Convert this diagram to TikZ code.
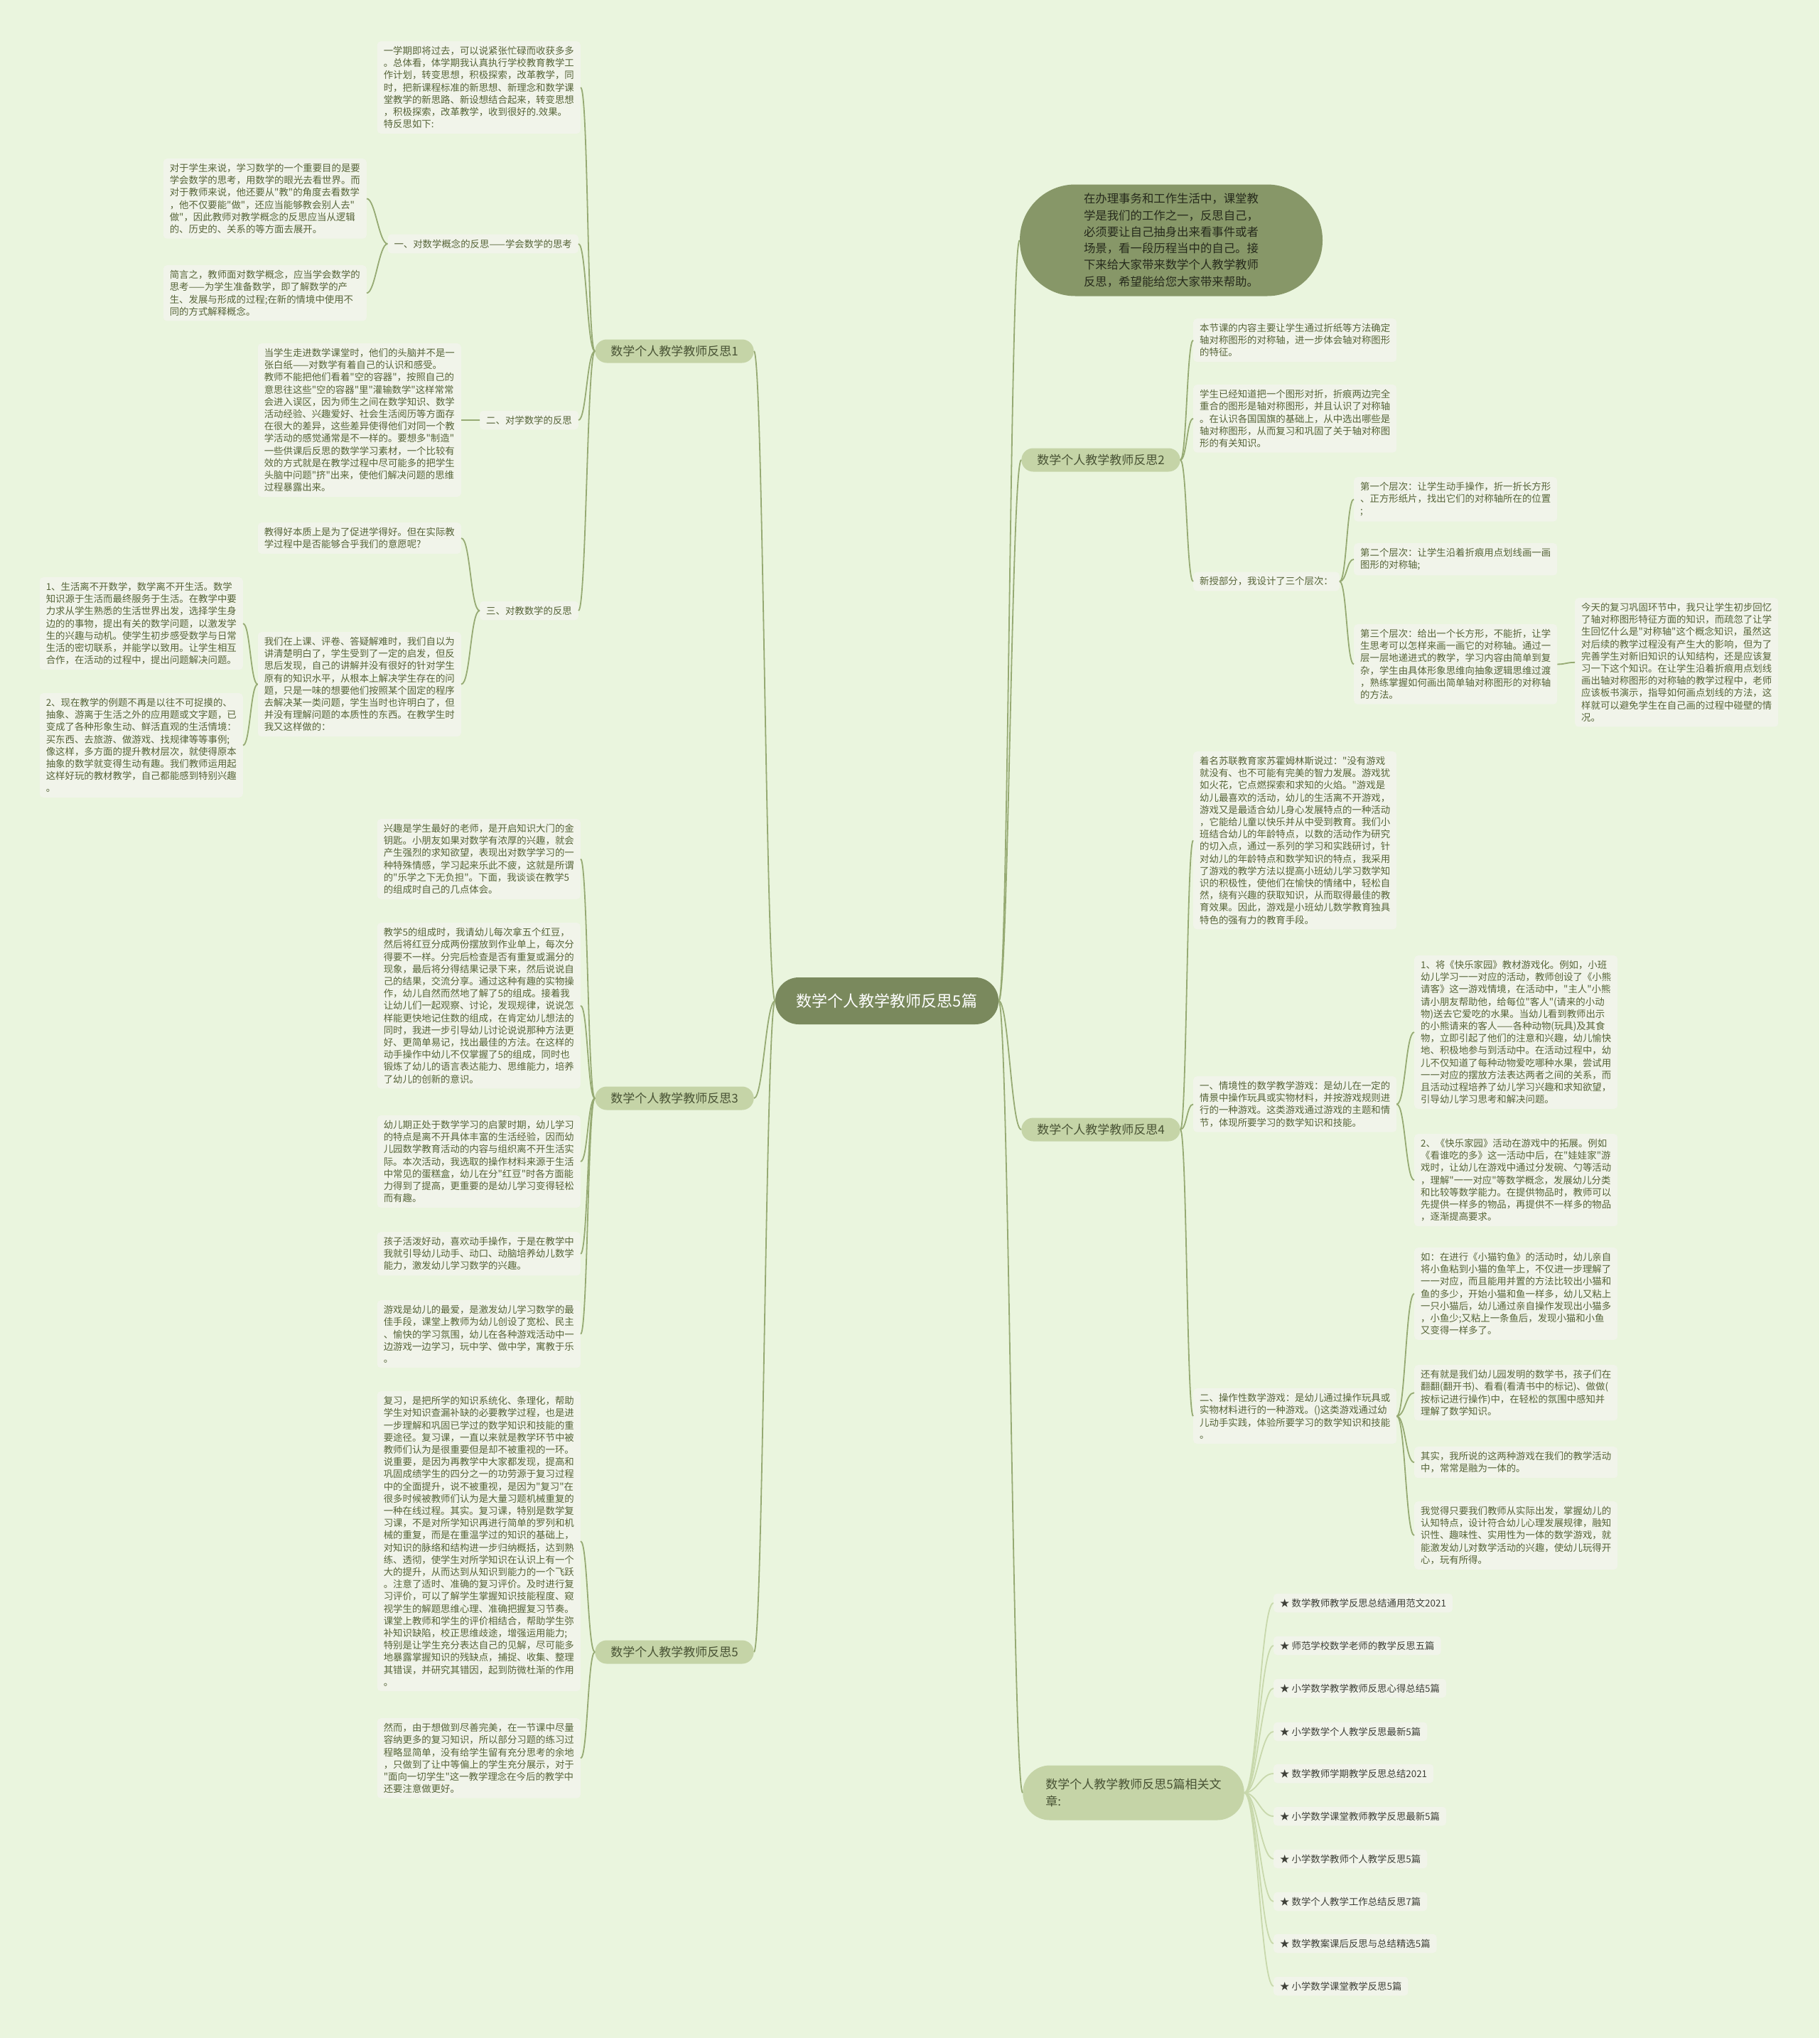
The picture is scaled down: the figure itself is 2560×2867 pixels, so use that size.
\documentclass[tikz,border=0pt]{standalone}
\usepackage{fontspec}
\newfontfamily\cjk{Noto Sans CJK SC}
\definecolor{bgc}{RGB}{234,245,222}
\definecolor{boxc}{RGB}{241,244,234}
\definecolor{brc}{RGB}{197,212,167}
\definecolor{brtext}{RGB}{72,82,52}
\definecolor{cenc}{RGB}{122,137,93}
\definecolor{introc}{RGB}{135,151,104}
\definecolor{introtext}{RGB}{38,42,28}
\definecolor{linec}{RGB}{150,170,115}
\definecolor{linkc}{RGB}{200,216,172}
\definecolor{leaftext}{RGB}{86,100,56}
\definecolor{linktext}{RGB}{62,64,56}
\newcommand\leaffont{\cjk\fontsize{13.4}{17.2}\selectfont}
\newcommand\brfont{\cjk\fontsize{17}{24}\selectfont}

\begin{document}
\begin{tikzpicture}[x=1pt, y=-1pt,
  leaf/.style={fill=boxc, rounded corners=5pt, align=left, font=\leaffont, text=leaftext, inner xsep=9pt, inner ysep=7pt},
  branch/.style={fill=brc, rounded corners=16.5pt, minimum height=33pt, inner xsep=22pt, inner ysep=4pt, font=\brfont, text=brtext},
  conn/.style={draw=linec, line width=1.8pt},
  tol/.style={to path={.. controls +(-#1,0) and +(#1,0) .. (\tikztotarget)}},
  tor/.style={to path={.. controls +(#1,0) and +(-#1,0) .. (\tikztotarget)}},
  tol/.default=11, tor/.default=11]
\useasboundingbox (0,0) rectangle (2560,2867);
\fill[bgc] (0,0) rectangle (2560,2867);

\node[fill=cenc, rounded corners=33pt, minimum height=66pt, inner xsep=30pt, font=\cjk\fontsize{22}{26}\selectfont, text=white] (cen) at (1248,1408) {数学个人教学教师反思5篇};

\node[fill=introc, rounded corners=78pt, minimum height=157pt, minimum width=426pt, align=left, font=\cjk\fontsize{16.4}{23.3}\selectfont, text=introtext] (intro) at (1648,338) {在办理事务和工作生活中，课堂教\\学是我们的工作之一，反思自己，\\必须要让自己抽身出来看事件或者\\场景，看一段历程当中的自己。接\\下来给大家带来数学个人教学教师\\反思，希望能给您大家带来帮助。};

\node[branch] (r1) at (949,494) {数学个人教学教师反思1};
\node[leaf, anchor=north east] (a1) at (817,58) {一学期即将过去，可以说紧张忙碌而收获多多\\。总体看，体学期我认真执行学校教育教学工\\作计划，转变思想，积极探索，改革教学，同\\时，把新课程标准的新思想、新理念和数学课\\堂教学的新思路、新设想结合起来，转变思想\\，积极探索，改革教学，收到很好的.效果。\\特反思如下:};
\node[leaf, anchor=east] (l1) at (814,343) {一、对数学概念的反思——学会数学的思考};
\node[leaf, anchor=north east] (b1) at (516,223) {对于学生来说，学习数学的一个重要目的是要\\学会数学的思考，用数学的眼光去看世界。而\\对于教师来说，他还要从"教"的角度去看数学\\，他不仅要能"做"，还应当能够教会别人去"\\做"，因此教师对教学概念的反思应当从逻辑\\的、历史的、关系的等方面去展开。};
\node[leaf, anchor=north east] (b2) at (516,373) {简言之，教师面对数学概念，应当学会数学的\\思考——为学生准备数学，即了解数学的产\\生、发展与形成的过程;在新的情境中使用不\\同的方式解释概念。};
\node[leaf, anchor=east] (l2) at (814,591) {二、对学数学的反思};
\node[leaf, anchor=north east] (c1) at (649,483) {当学生走进数学课堂时，他们的头脑并不是一\\张白纸——对数学有着自己的认识和感受。\\教师不能把他们看着"空的容器"，按照自己的\\意思往这些"空的容器"里"灌输数学"这样常常\\会进入误区，因为师生之间在数学知识、数学\\活动经验、兴趣爱好、社会生活阅历等方面存\\在很大的差异，这些差异使得他们对同一个教\\学活动的感觉通常是不一样的。要想多"制造"\\一些供课后反思的数学学习素材，一个比较有\\效的方式就是在教学过程中尽可能多的把学生\\头脑中问题"挤"出来，使他们解决问题的思维\\过程暴露出来。};
\node[leaf, anchor=east] (l3) at (814,859) {三、对教数学的反思};
\node[leaf, anchor=north east] (d1) at (649,735) {教得好本质上是为了促进学得好。但在实际教\\学过程中是否能够合乎我们的意愿呢?};
\node[leaf, anchor=north east] (d2) at (649,889) {我们在上课、评卷、答疑解难时，我们自以为\\讲清楚明白了，学生受到了一定的启发，但反\\思后发现，自己的讲解并没有很好的针对学生\\原有的知识水平，从根本上解决学生存在的问\\题，只是一味的想要他们按照某个固定的程序\\去解决某一类问题，学生当时也许明白了，但\\并没有理解问题的本质性的东西。在教学生时\\我又这样做的：};
\node[leaf, anchor=north east] (e1) at (342,812) {1、生活离不开数学，数学离不开生活。数学\\知识源于生活而最终服务于生活。在教学中要\\力求从学生熟悉的生活世界出发，选择学生身\\边的的事物，提出有关的数学问题，以激发学\\生的兴趣与动机。使学生初步感受数学与日常\\生活的密切联系，并能学以致用。让学生相互\\合作，在活动的过程中，提出问题解决问题。};
\node[leaf, anchor=north east] (e2) at (342,975) {2、现在教学的例题不再是以往不可捉摸的、\\抽象、游离于生活之外的应用题或文字题，已\\变成了各种形象生动、鲜活直观的生活情境：\\买东西、去旅游、做游戏、找规律等等事例;\\像这样，多方面的提升教材层次，就使得原本\\抽象的数学就变得生动有趣。我们教师运用起\\这样好玩的教材教学，自己都能感到特别兴趣\\。};

\node[branch] (r3) at (949,1545) {数学个人教学教师反思3};
\node[leaf, anchor=north east] (f1) at (817,1152) {兴趣是学生最好的老师，是开启知识大门的金\\钥匙。小朋友如果对数学有浓厚的兴趣，就会\\产生强烈的求知欲望，表现出对数学学习的一\\种特殊情感，学习起来乐此不疲，这就是所谓\\的"乐学之下无负担"。下面，我谈谈在教学5\\的组成时自己的几点体会。};
\node[leaf, anchor=north east] (f2) at (817,1298) {教学5的组成时，我请幼儿每次拿五个红豆，\\然后将红豆分成两份摆放到作业单上，每次分\\得要不一样。分完后检查是否有重复或漏分的\\现象，最后将分得结果记录下来，然后说说自\\己的结果，交流分享。通过这种有趣的实物操\\作，幼儿自然而然地了解了5的组成。接着我\\让幼儿们一起观察、讨论，发现规律，说说怎\\样能更快地记住数的组成，在肯定幼儿想法的\\同时，我进一步引导幼儿讨论说说那种方法更\\好、更简单易记，找出最佳的方法。在这样的\\动手操作中幼儿不仅掌握了5的组成，同时也\\锻炼了幼儿的语言表达能力、思维能力，培养\\了幼儿的创新的意识。};
\node[leaf, anchor=north east] (f3) at (817,1569) {幼儿期正处于数学学习的启蒙时期，幼儿学习\\的特点是离不开具体丰富的生活经验，因而幼\\儿园数学教育活动的内容与组织离不开生活实\\际。本次活动，我选取的操作材料来源于生活\\中常见的蛋糕盒，幼儿在分"红豆"时各方面能\\力得到了提高，更重要的是幼儿学习变得轻松\\而有趣。};
\node[leaf, anchor=north east] (f4) at (817,1733) {孩子活泼好动，喜欢动手操作，于是在教学中\\我就引导幼儿动手、动口、动脑培养幼儿数学\\能力，激发幼儿学习数学的兴趣。};
\node[leaf, anchor=north east] (f5) at (817,1829) {游戏是幼儿的最爱，是激发幼儿学习数学的最\\佳手段，课堂上教师为幼儿创设了宽松、民主\\、愉快的学习氛围，幼儿在各种游戏活动中一\\边游戏一边学习，玩中学、做中学，寓教于乐\\。};

\node[branch] (r5) at (949,2324) {数学个人教学教师反思5};
\node[leaf, anchor=north east] (g1) at (817,1957) {复习，是把所学的知识系统化、条理化，帮助\\学生对知识查漏补缺的必要教学过程，也是进\\一步理解和巩固已学过的数学知识和技能的重\\要途径。复习课，一直以来就是教学环节中被\\教师们认为是很重要但是却不被重视的一环。\\说重要，是因为再教学中大家都发现，提高和\\巩固成绩学生的四分之一的功劳源于复习过程\\中的全面提升，说不被重视，是因为"复习"在\\很多时候被教师们认为是大量习题机械重复的\\一种在线过程。其实。复习课，特别是数学复\\习课，不是对所学知识再进行简单的罗列和机\\械的重复，而是在重温学过的知识的基础上，\\对知识的脉络和结构进一步归纳概括，达到熟\\练、透彻，使学生对所学知识在认识上有一个\\大的提升，从而达到从知识到能力的一个飞跃\\。注意了适时、准确的复习评价。及时进行复\\习评价，可以了解学生掌握知识技能程度、窥\\视学生的解题思维心理、准确把握复习节奏。\\课堂上教师和学生的评价相结合，帮助学生弥\\补知识缺陷，校正思维歧途，增强运用能力;\\特别是让学生充分表达自己的见解，尽可能多\\地暴露掌握知识的残缺点，捕捉、收集、整理\\其错误，并研究其错因，起到防微杜渐的作用\\。};
\node[leaf, anchor=north east] (g2) at (817,2417) {然而，由于想做到尽善完美，在一节课中尽量\\容纳更多的复习知识，所以部分习题的练习过\\程略显简单，没有给学生留有充分思考的余地\\，只做到了让中等偏上的学生充分展示，对于\\"面向一切学生"这一教学理念在今后的教学中\\还要注意做更好。};

\node[branch] (r2) at (1549,647) {数学个人教学教师反思2};
\node[leaf, anchor=north west] (h1) at (1679,448) {本节课的内容主要让学生通过折纸等方法确定\\轴对称图形的对称轴，进一步体会轴对称图形\\的特征。};
\node[leaf, anchor=north west] (h2) at (1679,541) {学生已经知道把一个图形对折，折痕两边完全\\重合的图形是轴对称图形，并且认识了对称轴\\。在认识各国国旗的基础上，从中选出哪些是\\轴对称图形，从而复习和巩固了关于轴对称图\\形的有关知识。};
\node[leaf, anchor=west] (h3) at (1679,818) {新授部分，我设计了三个层次：};
\node[leaf, anchor=north west] (k1) at (1905,671) {第一个层次：让学生动手操作，折一折长方形\\、正方形纸片，找出它们的对称轴所在的位置\\;};
\node[leaf, anchor=north west] (k2) at (1905,764) {第二个层次：让学生沿着折痕用点划线画一画\\图形的对称轴;};
\node[leaf, anchor=north west] (k3) at (1905,878) {第三个层次：给出一个长方形，不能折，让学\\生思考可以怎样来画一画它的对称轴。通过一\\层一层地递进式的教学，学习内容由简单到复\\杂，学生由具体形象思维向抽象逻辑思维过渡\\，熟练掌握如何画出简单轴对称图形的对称轴\\的方法。};
\node[leaf, anchor=north west] (m1) at (2216,841) {今天的复习巩固环节中，我只让学生初步回忆\\了轴对称图形特征方面的知识，而疏忽了让学\\生回忆什么是"对称轴"这个概念知识，虽然这\\对后续的教学过程没有产生大的影响，但为了\\完善学生对新旧知识的认知结构，还是应该复\\习一下这个知识。在让学生沿着折痕用点划线\\画出轴对称图形的对称轴的教学过程中，老师\\应该板书演示，指导如何画点划线的方法，这\\样就可以避免学生在自己画的过程中碰壁的情\\况。};

\node[branch] (r4) at (1549,1589) {数学个人教学教师反思4};
\node[leaf, anchor=north west] (n1) at (1679,1057) {着名苏联教育家苏霍姆林斯说过："没有游戏\\就没有、也不可能有完美的智力发展。游戏犹\\如火花，它点燃探索和求知的火焰。"游戏是\\幼儿最喜欢的活动，幼儿的生活离不开游戏，\\游戏又是最适合幼儿身心发展特点的一种活动\\，它能给儿童以快乐并从中受到教育。我们小\\班结合幼儿的年龄特点，以数的活动作为研究\\的切入点，通过一系列的学习和实践研讨，针\\对幼儿的年龄特点和数学知识的特点，我采用\\了游戏的教学方法以提高小班幼儿学习数学知\\识的积极性，使他们在愉快的情绪中，轻松自\\然，绕有兴趣的获取知识，从而取得最佳的教\\育效果。因此，游戏是小班幼儿数学教育独具\\特色的强有力的教育手段。};
\node[leaf, anchor=north west] (n2) at (1679,1514) {一、情境性的数学教学游戏：是幼儿在一定的\\情景中操作玩具或实物材料，并按游戏规则进\\行的一种游戏。这类游戏通过游戏的主题和情\\节，体现所要学习的数学知识和技能。};
\node[leaf, anchor=north west] (p1) at (1990,1344) {1、将《快乐家园》教材游戏化。例如，小班\\幼儿学习一一对应的活动，教师创设了《小熊\\请客》这一游戏情境，在活动中，"主人"小熊\\请小朋友帮助他，给每位"客人"(请来的小动\\物)送去它爱吃的水果。当幼儿看到教师出示\\的小熊请来的客人——各种动物(玩具)及其食\\物，立即引起了他们的注意和兴趣，幼儿愉快\\地、积极地参与到活动中。在活动过程中，幼\\儿不仅知道了每种动物爱吃哪种水果，尝试用\\一一对应的摆放方法表达两者之间的关系，而\\且活动过程培养了幼儿学习兴趣和求知欲望，\\引导幼儿学习思考和解决问题。};
\node[leaf, anchor=north west] (p2) at (1990,1595) {2、《快乐家园》活动在游戏中的拓展。例如\\《看谁吃的多》这一活动中后，在"娃娃家"游\\戏时，让幼儿在游戏中通过分发碗、勺等活动\\，理解"一一对应"等数学概念，发展幼儿分类\\和比较等数学能力。在提供物品时，教师可以\\先提供一样多的物品，再提供不一样多的物品\\，逐渐提高要求。};
\node[leaf, anchor=north west] (n3) at (1679,1953) {二、操作性数学游戏：是幼儿通过操作玩具或\\实物材料进行的一种游戏。()这类游戏通过幼\\儿动手实践，体验所要学习的数学知识和技能\\。};
\node[leaf, anchor=north west] (q1) at (1990,1755) {如：在进行《小猫钓鱼》的活动时，幼儿亲自\\将小鱼粘到小猫的鱼竿上，不仅进一步理解了\\一一对应，而且能用并置的方法比较出小猫和\\鱼的多少，开始小猫和鱼一样多，幼儿又粘上\\一只小猫后，幼儿通过亲自操作发现出小猫多\\，小鱼少;又粘上一条鱼后，发现小猫和小鱼\\又变得一样多了。};
\node[leaf, anchor=north west] (q2) at (1990,1920) {还有就是我们幼儿园发明的数学书，孩子们在\\翻翻(翻开书)、看看(看清书中的标记)、做做(\\按标记进行操作)中，在轻松的氛围中感知并\\理解了数学知识。};
\node[leaf, anchor=north west] (q3) at (1990,2035) {其实，我所说的这两种游戏在我们的教学活动\\中，常常是融为一体的。};
\node[leaf, anchor=north west] (q4) at (1990,2112) {我觉得只要我们教师从实际出发，掌握幼儿的\\认知特点，设计符合幼儿心理发展规律，融知\\识性、趣味性、实用性为一体的数学游戏，就\\能激发幼儿对数学活动的兴趣，使幼儿玩得开\\心，玩有所得。};

\node[branch, rounded corners=38pt, minimum height=77pt, align=left, inner xsep=32pt] (r6) at (1595,2522) {数学个人教学教师反思5篇相关文\\章:};
\node[leaf, anchor=west, text=linktext] (lk1) at (1792,2255) {★ 数学教师教学反思总结通用范文2021};
\node[leaf, anchor=west, text=linktext] (lk2) at (1792,2315) {★ 师范学校数学老师的教学反思五篇};
\node[leaf, anchor=west, text=linktext] (lk3) at (1792,2375) {★ 小学数学教学教师反思心得总结5篇};
\node[leaf, anchor=west, text=linktext] (lk4) at (1792,2436) {★ 小学数学个人教学反思最新5篇};
\node[leaf, anchor=west, text=linktext] (lk5) at (1792,2495) {★ 数学教师学期教学反思总结2021};
\node[leaf, anchor=west, text=linktext] (lk6) at (1792,2555) {★ 小学数学课堂教师教学反思最新5篇};
\node[leaf, anchor=west, text=linktext] (lk7) at (1792,2615) {★ 小学数学教师个人教学反思5篇};
\node[leaf, anchor=west, text=linktext] (lk8) at (1792,2675) {★ 数学个人教学工作总结反思7篇};
\node[leaf, anchor=west, text=linktext] (lk9) at (1792,2734) {★ 数学教案课后反思与总结精选5篇};
\node[leaf, anchor=west, text=linktext] (lk10) at (1792,2794) {★ 小学数学课堂教学反思5篇};

\draw[conn] (cen.west) to[tol=13] (r1.east);
\draw[conn] (cen.west) to[tol=13] (r3.east);
\draw[conn] (cen.west) to[tol=13] (r5.east);
\draw[conn] (cen.east) to[tor=14] (intro.west);
\draw[conn] (cen.east) to[tor=14] (r2.west);
\draw[conn] (cen.east) to[tor=14] (r4.west);
\draw[conn] (cen.east) to[tor=14] (r6.west);

\draw[conn] (r1.west) to[tol] (a1.east);
\draw[conn] (r1.west) to[tol] (l1.east);
\draw[conn] (r1.west) to[tol] (l2.east);
\draw[conn] (r1.west) to[tol] (l3.east);
\draw[conn] (l1.west) to[tol=12] (b1.east);
\draw[conn] (l1.west) to[tol=12] (b2.east);
\draw[conn] (l2.west) to[tol=13] (c1.east);
\draw[conn] (l3.west) to[tol=13] (d1.east);
\draw[conn] (l3.west) to[tol=13] (d2.east);
\draw[conn] (d2.west) to[tol=10] (e1.east);
\draw[conn] (d2.west) to[tol=10] (e2.east);

\draw[conn] (r3.west) to[tol=10] (f1.east);
\draw[conn] (r3.west) to[tol=10] (f2.east);
\draw[conn] (r3.west) to[tol=10] (f3.east);
\draw[conn] (r3.west) to[tol=10] (f4.east);
\draw[conn] (r3.west) to[tol=10] (f5.east);
\draw[conn] (r5.west) to[tol=10] (g1.east);
\draw[conn] (r5.west) to[tol=10] (g2.east);

\draw[conn] (r2.east) to[tor=9] (h1.west);
\draw[conn] (r2.east) to[tor=9] (h2.west);
\draw[conn] (r2.east) to[tor=9] (h3.west);
\draw[conn] (h3.east) to[tor=10] (k1.west);
\draw[conn] (h3.east) to[tor=10] (k2.west);
\draw[conn] (h3.east) to[tor=10] (k3.west);
\draw[conn] (k3.east) to[tor=12] (m1.west);

\draw[conn] (r4.east) to[tor=9] (n1.west);
\draw[conn] (r4.east) to[tor=9] (n2.west);
\draw[conn] (r4.east) to[tor=9] (n3.west);
\draw[conn] (n2.east) to[tor=12] (p1.west);
\draw[conn] (n2.east) to[tor=12] (p2.west);
\draw[conn] (n3.east) to[tor=12] (q1.west);
\draw[conn] (n3.east) to[tor=12] (q2.west);
\draw[conn] (n3.east) to[tor=12] (q3.west);
\draw[conn] (n3.east) to[tor=12] (q4.west);

\draw[conn, draw=linkc] (r6.east) to[tor=18] (lk1.west);
\draw[conn, draw=linkc] (r6.east) to[tor=18] (lk2.west);
\draw[conn, draw=linkc] (r6.east) to[tor=18] (lk3.west);
\draw[conn, draw=linkc] (r6.east) to[tor=18] (lk4.west);
\draw[conn, draw=linkc] (r6.east) to[tor=18] (lk5.west);
\draw[conn, draw=linkc] (r6.east) to[tor=18] (lk6.west);
\draw[conn, draw=linkc] (r6.east) to[tor=18] (lk7.west);
\draw[conn, draw=linkc] (r6.east) to[tor=18] (lk8.west);
\draw[conn, draw=linkc] (r6.east) to[tor=18] (lk9.west);
\draw[conn, draw=linkc] (r6.east) to[tor=18] (lk10.west);
\end{tikzpicture}
\end{document}
